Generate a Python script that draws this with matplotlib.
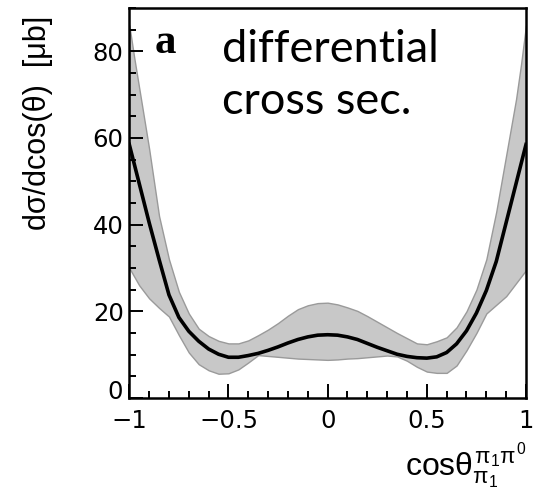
import numpy as np
import matplotlib
matplotlib.use("Agg")
import matplotlib.pyplot as plt
from matplotlib.ticker import MultipleLocator

plt.rcParams['font.family'] = ['Liberation Sans', 'DejaVu Sans']
plt.rcParams['mathtext.fontset'] = 'custom'
plt.rcParams['mathtext.rm'] = 'Liberation Sans'
plt.rcParams['mathtext.it'] = 'Liberation Sans'
plt.rcParams['mathtext.bf'] = 'Liberation Sans:bold'

# values
cos_theta = [-1.0, -0.975, -0.95, -0.9, -0.85, -0.8, -0.75, -0.7, -0.65, -0.6,
             -0.55, -0.5, -0.45, -0.4, -0.35, -0.3, -0.25, -0.2, -0.15, -0.1,
             -0.05, 0.0, 0.05, 0.1, 0.15, 0.2, 0.25, 0.3, 0.35, 0.4,
             0.45, 0.5, 0.55, 0.6, 0.65, 0.7, 0.75, 0.8, 0.85, 0.9,
             0.95, 0.975, 1.0]
xsec = [58.5, 54.0, 49.5, 40.5, 32.0, 23.8, 18.6, 15.4, 13.1, 11.3,
        10.1, 9.4, 9.4, 9.8, 10.3, 11.0, 11.8, 12.7, 13.5, 14.1,
        14.5, 14.6, 14.5, 14.1, 13.5, 12.6, 11.7, 10.9, 10.1, 9.6,
        9.3, 9.2, 9.5, 10.5, 12.5, 15.5, 19.6, 24.8, 31.5, 40.5,
        49.5, 54.0, 58.5]
xsec_hi = [86.0, 78.5, 71.5, 57.5, 42.0, 32.0, 24.5, 19.5, 16.0, 14.3,
           13.2, 12.6, 12.6, 13.3, 14.5, 15.8, 17.3, 19.0, 20.5, 21.4,
           21.9, 22.0, 21.6, 20.9, 20.1, 18.9, 17.6, 16.3, 15.0, 13.8,
           12.6, 12.4, 13.1, 14.0, 16.3, 20.0, 25.0, 32.0, 43.0, 56.0,
           69.0, 77.0, 86.0]
xsec_lo = [30.0, 28.0, 26.0, 23.0, 20.8, 18.8, 14.5, 10.5, 7.8, 6.4,
           5.6, 5.7, 6.6, 8.2, 9.9, 9.7, 9.5, 9.3, 9.1, 9.0,
           8.9, 8.8, 8.9, 9.1, 9.2, 9.4, 9.6, 9.8, 9.6, 8.6,
           7.2, 6.1, 5.8, 5.8, 7.5, 11.0, 15.0, 19.5, 21.5, 23.5,
           26.5, 28.0, 29.5]

xticks = [-1, -0.5, 0, 0.5, 1]
xticklabels = ['\u22121', '\u22120.5', '0', '0.5', '1']
yticks = [0, 20, 40, 60, 80]
yticklabels = ['0', '20', '40', '60', '80']

fig = plt.figure(figsize=(5.4, 4.93), dpi=100)
ax = fig.add_axes([129.3/540, 1-398/493, (526-129.3)/540, (398-8)/493])

ax.fill_between(cos_theta, xsec_lo, xsec_hi, facecolor='#c8c8c8',
                edgecolor='#9a9a9a', linewidth=1.0, zorder=1)
ax.plot(cos_theta, xsec, color='black', lw=2.6, zorder=3)

ax.set_xlim(-1, 1)
ax.set_ylim(0, 90)
ax.set_xticks(xticks)
ax.set_xticklabels(xticklabels)
ax.set_yticks(yticks)
# the "0" label sits a bit higher, like in the original
ax.set_yticklabels([''] + yticklabels[1:])
ax.xaxis.set_minor_locator(MultipleLocator(0.1))
ax.yaxis.set_minor_locator(MultipleLocator(5))
ax.tick_params(which='both', direction='in', top=False, right=False,
               labelsize=17.5, width=1.4)
ax.tick_params(which='major', length=10)
ax.tick_params(which='minor', length=5)
ax.tick_params(axis='y', pad=4)
ax.tick_params(axis='x', pad=8)
for lab in ax.get_xticklabels() + ax.get_yticklabels():
    lab.set_family('DejaVu Sans')
for s in ax.spines.values():
    s.set_linewidth(1.8)

fig.text(123/540, 1-392/493, yticklabels[0], ha='right', va='center',
         fontsize=17.5, family='DejaVu Sans')

ax.text(0.065, 0.885, 'a', transform=ax.transAxes, fontsize=31,
        fontweight='bold', family='Liberation Serif', va='baseline')
ax.text(0.234, 0.862, 'differential', transform=ax.transAxes, fontsize=32.5,
        family='Lato', va='baseline')
ax.text(0.234, 0.727, 'cross sec.', transform=ax.transAxes, fontsize=32.5,
        family='Lato', va='baseline')

fig.text(38/540, 1-123/493, 'd\u03c3/dcos(\u03b8)  [\u03bcb]', rotation=90,
         ha='center', va='center', fontsize=22)
fig.text(526/540, 1-476/493, r'$\mathrm{cos}\theta^{\pi_1\pi^0}_{\pi_1}$',
         ha='right', va='baseline', fontsize=23)

fig.savefig('out.png', dpi=100)
